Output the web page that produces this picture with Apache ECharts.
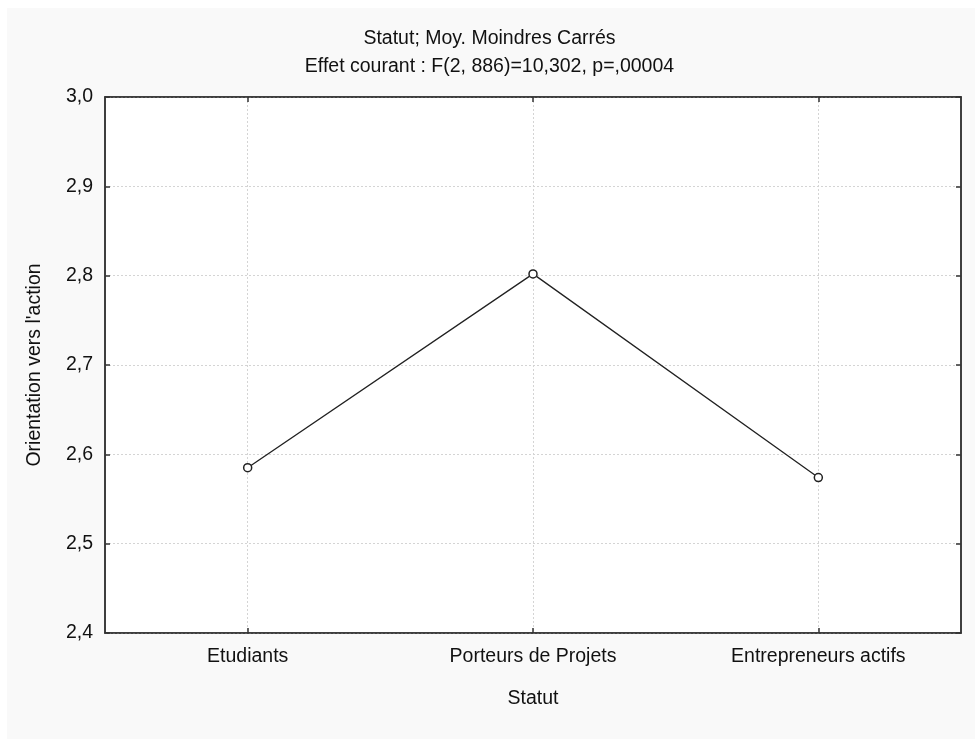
<!DOCTYPE html>
<html>
<head>
<meta charset="utf-8">
<script src="https://cdn.jsdelivr.net/npm/echarts@6/dist/echarts.min.js"></script>
<style>
html,body{margin:0;padding:0;background:#ffffff;}
#chart{width:979px;height:740px;}
</style>
</head>
<body>
<div id="chart"></div>
<script>
var categories = ['Etudiants', 'Porteurs de Projets', 'Entrepreneurs actifs'];
var values = [2.585, 2.802, 2.574];
var yMin = 2.4, yMax = 3.0, yStep = 0.1;
var titleLines = ['Statut; Moy. Moindres Carrés', 'Effet courant : F(2, 886)=10,302, p=,00004'];
var xName = 'Statut';
var yName = "Orientation vers l'action";

var FONT = '"Liberation Sans", Arial, sans-serif';
var FS = 19.5;
var chart = echarts.init(document.getElementById('chart'), null, {renderer: 'canvas'});
var fmt = function (v) { return v.toFixed(1).replace('.', ','); };

chart.setOption({
  backgroundColor: '#ffffff',
  animation: false,
  textStyle: {fontFamily: FONT},
  graphic: [{
    type: 'rect', left: 7, top: 8, z: -10,
    shape: {width: 968, height: 731},
    style: {fill: '#f9f9f9'}
  }],
  title: {
    text: titleLines.join('\n'),
    left: 'center', top: 25, padding: 0,
    textStyle: {fontFamily: FONT, fontSize: FS, fontWeight: 'normal', color: '#111', lineHeight: 28}
  },
  grid: {
    left: 105, right: 18, top: 97, bottom: 107,
    show: true, backgroundColor: '#ffffff', borderColor: '#333', borderWidth: 1.5
  },
  xAxis: [{
    type: 'category', data: categories, position: 'bottom', boundaryGap: true,
    name: xName, nameLocation: 'middle', nameGap: 56,
    nameTextStyle: {fontFamily: FONT, fontSize: FS, color: '#111'},
    axisLine: {show: true, lineStyle: {color: '#333', width: 1.5}},
    axisTick: {show: true, inside: true, alignWithLabel: true, length: 5, lineStyle: {color: '#333', width: 1.5}},
    axisLabel: {fontFamily: FONT, fontSize: FS, color: '#111', margin: 14},
    splitLine: {show: true, alignWithLabel: true, lineStyle: {color: '#d4d4d4', type: [2, 2], width: 1}}
  }, {
    type: 'category', data: categories, position: 'top', boundaryGap: true,
    axisLine: {show: true, lineStyle: {color: '#333', width: 1.5}},
    axisTick: {show: true, inside: true, alignWithLabel: true, length: 5, lineStyle: {color: '#333', width: 1.5}},
    axisLabel: {show: false},
    splitLine: {show: false}
  }],
  yAxis: [{
    type: 'value', min: yMin, max: yMax, interval: yStep, position: 'left',
    name: yName, nameLocation: 'middle', nameGap: 60, nameRotate: 90,
    nameTextStyle: {fontFamily: FONT, fontSize: FS, color: '#111'},
    axisLine: {show: true, lineStyle: {color: '#333', width: 1.5}},
    axisTick: {show: true, inside: true, length: 5, lineStyle: {color: '#333', width: 1.5}},
    axisLabel: {fontFamily: FONT, fontSize: FS, color: '#111', margin: 12, formatter: fmt},
    splitLine: {show: true, lineStyle: {color: '#d4d4d4', type: [2, 2], width: 1}}
  }, {
    type: 'value', min: yMin, max: yMax, interval: yStep, position: 'right',
    axisLine: {show: true, lineStyle: {color: '#333', width: 1.5}},
    axisTick: {show: true, inside: true, length: 5, lineStyle: {color: '#333', width: 1.5}},
    axisLabel: {show: false},
    splitLine: {show: false}
  }],
  series: [{
    type: 'line', data: values, xAxisIndex: 0, yAxisIndex: 0,
    symbol: 'circle', symbolSize: 8, showSymbol: true,
    lineStyle: {color: '#222', width: 1.3},
    itemStyle: {color: '#ffffff', borderColor: '#222', borderWidth: 1.5},
    emphasis: {disabled: true}
  }]
});
</script>
</body>
</html>
